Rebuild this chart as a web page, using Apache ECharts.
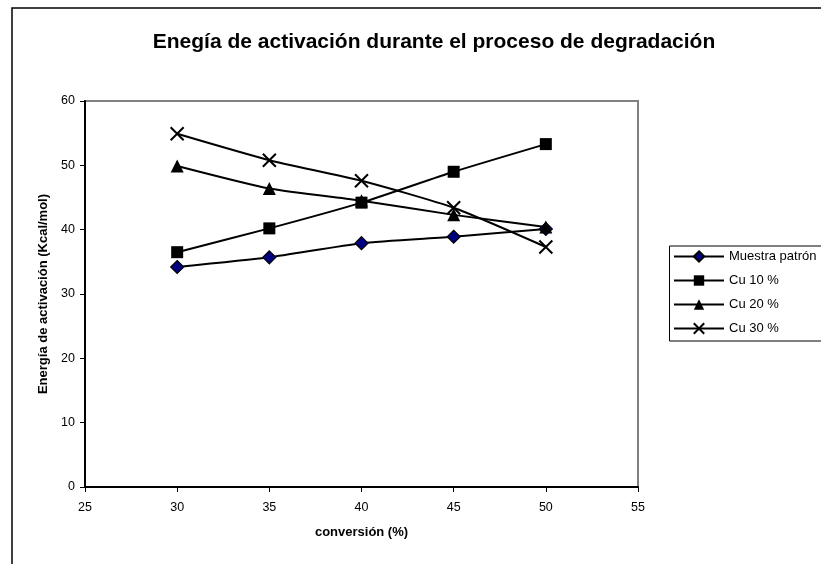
<!DOCTYPE html>
<html>
<head>
<meta charset="utf-8">
<script src="https://cdn.jsdelivr.net/npm/echarts@6/dist/echarts.min.js"></script>
<style>
  html, body { margin: 0; padding: 0; background: #fff; }
  #chart { width: 821px; height: 564px; }
</style>
</head>
<body>
<div id="chart"></div>
<script>
// Conversion levels (%)
const conversion = [30, 35, 40, 45, 50];

// Activation energy (Kcal/mol) for each sample
const muestraPatron = [34.2, 35.7, 37.9, 38.9, 40.1];
const cu10 = [36.5, 40.2, 44.2, 49.0, 53.3];
const cu20 = [49.9, 46.4, 44.5, 42.3, 40.4];
const cu30 = [54.9, 50.8, 47.6, 43.4, 37.3];

const seriesNames = ['Muestra patrón', 'Cu 10 %', 'Cu 20 %', 'Cu 30 %'];

const pairs = (vals) => conversion.map((c, i) => [c, vals[i]]);

const font = '"Liberation Sans", Arial, sans-serif';
const crossPath = 'path://M0,0L10,10M10,0L0,10';

function lineSeries(name, vals, symbol, size, itemStyle) {
  return {
    name: name,
    type: 'line',
    data: pairs(vals),
    smooth: 0.2,
    symbol: symbol,
    symbolSize: size,
    showAllSymbol: true,
    lineStyle: { color: '#000', width: 2 },
    itemStyle: itemStyle,
    emphasis: { disabled: true },
    animation: false
  };
}

const chart = echarts.init(document.getElementById('chart'), null, { renderer: 'canvas' });

chart.setOption({
  backgroundColor: '#fff',
  animation: false,
  title: {
    text: 'Enegía de activación durante el proceso de degradación',
    left: 429,
    textAlign: 'center',
    top: 27,
    textStyle: { fontFamily: font, fontSize: 21, fontWeight: 'bold', color: '#000' }
  },
  graphic: [
    {
      type: 'rect',
      shape: { x: 12, y: 8, width: 900, height: 700 },
      style: { fill: 'none', stroke: '#000', lineWidth: 1.5 },
      silent: true, z: 0
    },
    {
      type: 'rect',
      shape: { x: 669.5, y: 246, width: 200, height: 95 },
      style: { fill: '#fff', stroke: '#000', lineWidth: 1 },
      silent: true, z: 1
    }
  ],
  legend: {
    data: seriesNames,
    orient: 'vertical',
    left: 673,
    top: 250,
    itemWidth: 50,
    itemHeight: 13,
    itemGap: 11,
    padding: 0,
    selectedMode: false,
    z: 5,
    textStyle: { fontFamily: font, fontSize: 13, color: '#000' }
  },
  grid: {
    left: 85, right: 183, top: 101, bottom: 77,
    show: true,
    borderColor: '#808080',
    borderWidth: 2,
    backgroundColor: '#fff'
  },
  xAxis: {
    type: 'value',
    min: 25, max: 55, interval: 5,
    name: 'conversión (%)',
    nameLocation: 'middle',
    nameGap: 39,
    nameTextStyle: { fontFamily: font, fontSize: 13, fontWeight: 'bold', color: '#000' },
    axisLine: { lineStyle: { color: '#000', width: 2 } },
    axisTick: { inside: false, length: 5, lineStyle: { color: '#000' } },
    axisLabel: { fontFamily: font, fontSize: 12.5, color: '#000', margin: 14 },
    splitLine: { show: false }
  },
  yAxis: {
    type: 'value',
    min: 0, max: 60, interval: 10,
    name: 'Energía de activación (Kcal/mol)',
    nameLocation: 'middle',
    nameGap: 33,
    nameTextStyle: { fontFamily: font, fontSize: 13, fontWeight: 'bold', color: '#000' },
    axisLine: { show: true, lineStyle: { color: '#000', width: 2 } },
    axisTick: { show: true, inside: false, length: 5, lineStyle: { color: '#000' } },
    axisLabel: { fontFamily: font, fontSize: 12.5, color: '#000', margin: 10 },
    splitLine: { show: false }
  },
  series: [
    lineSeries(seriesNames[0], muestraPatron, 'diamond', 13,
      { color: '#000080', borderColor: '#000', borderWidth: 1.2 }),
    lineSeries(seriesNames[1], cu10, 'rect', 12,
      { color: '#000', borderColor: '#000', borderWidth: 0 }),
    lineSeries(seriesNames[2], cu20, 'triangle', 13,
      { color: '#000', borderColor: '#000', borderWidth: 0 }),
    lineSeries(seriesNames[3], cu30, crossPath, 13,
      { color: '#000', borderColor: '#000', borderWidth: 2 })
  ]
});
</script>
</body>
</html>
